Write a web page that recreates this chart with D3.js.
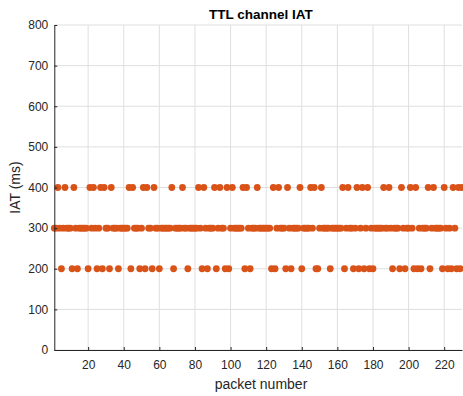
<!DOCTYPE html>
<html><head><meta charset="utf-8">
<script src="https://cdn.jsdelivr.net/npm/d3@7"></script>
<style>body{margin:0;background:#fff}text{font-family:"Liberation Sans",Arial,sans-serif}</style>
</head><body><svg id="c" width="463" height="396"></svg>
<script>
const packetCount = 230;
const idx400 = [3,7,12,21,23,27,29,33,43,45,51,53,57,67,73,82,85,91,94,98,101,107,109,115,124,127,132,139,145,147,151,163,166,171,174,177,186,189,196,201,204,211,214,220,225,228,230];
const idx200 = [5,11,14,20,25,28,32,37,44,49,52,56,60,68,76,84,87,92,97,99,108,111,123,125,131,134,140,148,149,156,164,169,172,175,178,180,191,195,198,203,205,207,212,219,222,224,227,229];
const xTicks = [20,40,60,80,100,120,140,160,180,200,220];
const yTicks = [0,100,200,300,400,500,600,700,800];
const title = "TTL channel IAT", xLabel = "packet number", yLabel = "IAT (ms)";

const s400 = new Set(idx400), s200 = new Set(idx200);
const data = d3.range(1, packetCount + 1).map(i => ({x: i, y: s400.has(i) ? 400 : s200.has(i) ? 200 : 300}));

const svg = d3.select("#c");
const L = 54.3, R = 462, T = 25, B = 350;
const x = d3.scaleLinear().domain([1, 230]).range([L, R]);
const y = d3.scaleLinear().domain([0, 800]).range([B, T]);
const axisCol = "#262626";

// grid
const g = svg.append("g");
g.selectAll(".gx").data(xTicks).join("line").attr("x1", d => x(d)).attr("x2", d => x(d)).attr("y1", T).attr("y2", B).attr("stroke", "#dfdfdf").attr("stroke-width", 1);
g.selectAll(".gy").data(yTicks).join("line").attr("x1", L).attr("x2", R).attr("y1", d => y(d)).attr("y2", d => y(d)).attr("stroke", "#dfdfdf").attr("stroke-width", 1);

// points
svg.append("g").selectAll("circle").data(data).join("circle")
  .attr("cx", d => x(d.x)).attr("cy", d => y(d.y)).attr("r", 3.4).attr("fill", "#D95319");

// axes
const xa = svg.append("g").attr("transform", `translate(0,${B})`)
  .call(d3.axisBottom(x).tickValues(xTicks).tickSizeInner(-3).tickSizeOuter(0).tickPadding(10));
const ya = svg.append("g").attr("transform", `translate(${L},0)`)
  .call(d3.axisLeft(y).tickValues(yTicks).tickSizeInner(-3).tickSizeOuter(0).tickPadding(6));
[xa, ya].forEach(a => {
  a.select(".domain").attr("stroke", axisCol);
  a.selectAll(".tick line").attr("stroke", axisCol);
  a.selectAll("text").attr("fill", axisCol).style("font-size", "12px").style("font-family", '"Liberation Sans",Arial,sans-serif');
});

svg.append("text").attr("x", 261).attr("y", 18.5).attr("text-anchor", "middle").attr("font-weight", "bold").attr("font-size", "13.5px").attr("fill", "#000").text(title);
svg.append("text").attr("x", 261).attr("y", 389).attr("text-anchor", "middle").attr("font-size", "14px").attr("fill", axisCol).text(xLabel);
svg.append("text").attr("transform", `translate(20,${(T + B) / 2}) rotate(-90)`).attr("text-anchor", "middle").attr("font-size", "14px").attr("fill", axisCol).text(yLabel);
</script></body></html>
